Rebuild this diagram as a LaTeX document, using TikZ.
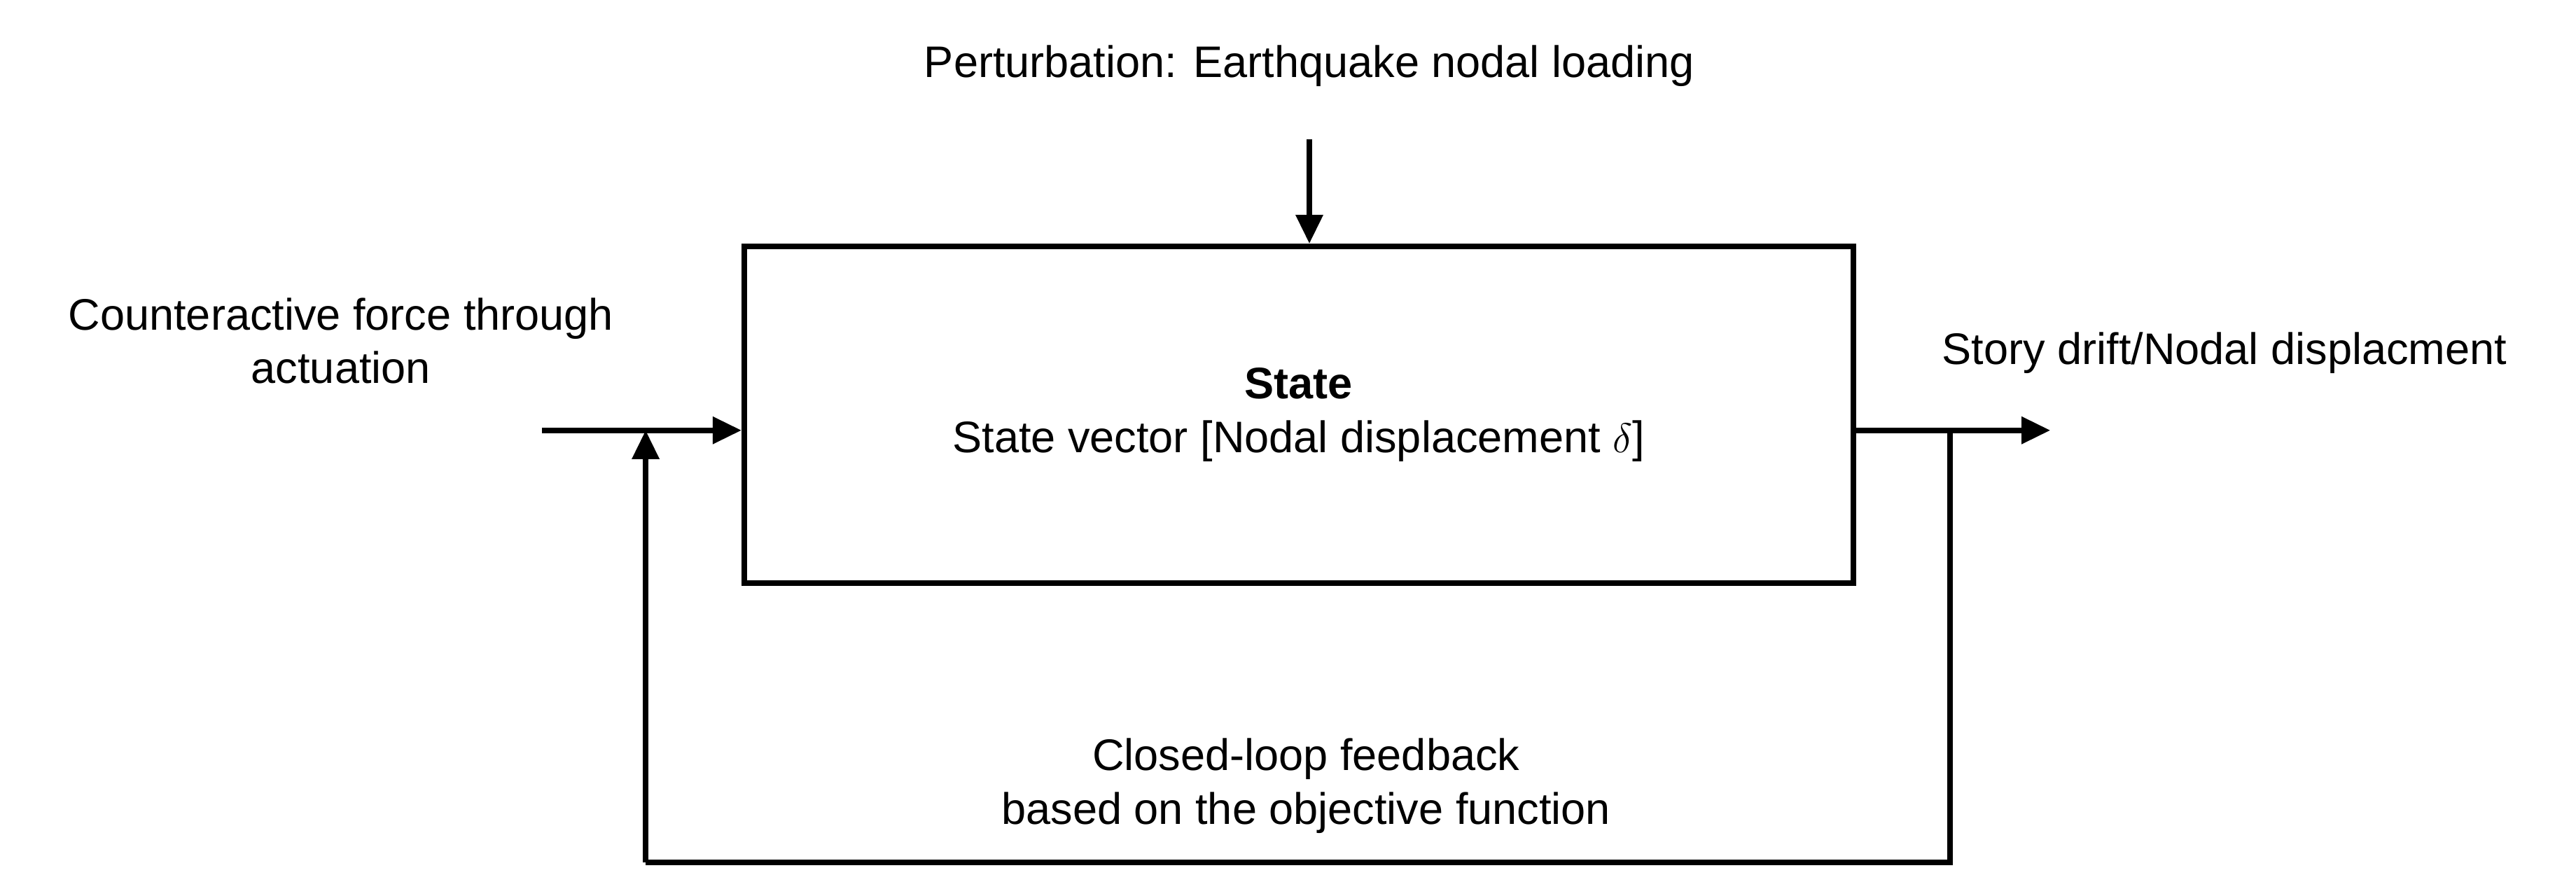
\documentclass[tikz,border=0pt]{standalone}
\usepackage{fontspec}
\setmainfont{Liberation Sans}
\usetikzlibrary{arrows.meta,positioning,calc}
\begin{document}
\begin{tikzpicture}[
    every node/.style={font=\fontsize{15.3}{18.5}\selectfont},
    block/.style={rectangle, draw, line width=1.9pt, minimum width=13.5cm, minimum height=4.1cm, align=center},
    label/.style={align=center},
    arrow/.style={-{Triangle[length=0.35cm,width=0.32cm]}, line width=1.9pt},
    line/.style={line width=1.9pt}
]
\useasboundingbox (0,0) rectangle (31.36,-10.82);

% Plant block
\node[block] (state) at (15.81,-5.05) {\textbf{State}\\State vector [Nodal displacement $\delta$]};

% Disturbance
\node[label] (dist) at (15.94,-0.8) {Perturbation: Earthquake nodal loading};
\coordinate (distend) at (15.94,-1.7);
\draw[arrow] (distend) -- (state.north -| distend);

% Control input
\node[label] (ctrl) at (4.15,-4.15) {Counteractive force through\\actuation};
\coordinate (ctrlin) at (6.6,-5.24);
\draw[arrow] (ctrlin) -- (state.west |- ctrlin);

% Output
\node[label] (out) at (27.08,-4.3) {Story drift/Nodal displacment};
\coordinate (outend) at (24.96,-5.24);
\draw[arrow] (state.east |- outend) -- (outend);

% Feedback loop
\coordinate (tap) at (23.74,-5.24);
\coordinate (fbr) at (23.74,-10.5);
\coordinate (fbl) at (7.86,-10.5);
\coordinate (join) at (7.86,-5.24);
\draw[line] (tap) -- (fbr) -- (fbl);
\draw[arrow] (fbl) -- (join);
\node[label] (fb) at (15.9,-9.57) {Closed-loop feedback\\based on the objective function};

\end{tikzpicture}
\end{document}
